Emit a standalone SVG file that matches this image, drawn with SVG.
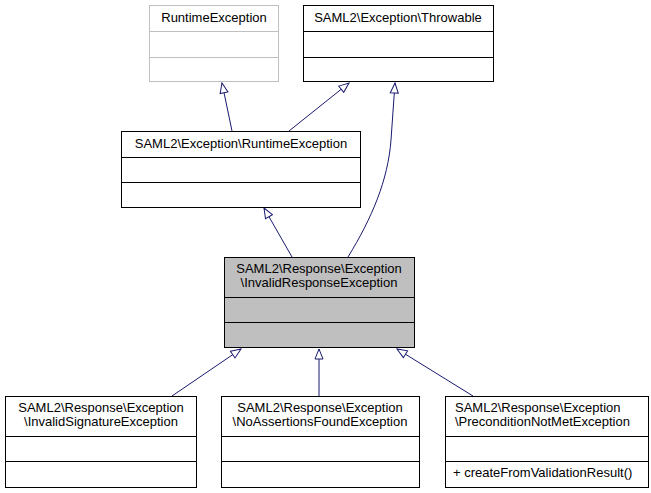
<svg xmlns="http://www.w3.org/2000/svg" width="651" height="493" viewBox="0 0 651 493">
<style>
text{font-family:"Liberation Sans",Arial,sans-serif;font-size:13px;fill:#000}
.c{text-anchor:middle}
.b{fill:#fff;stroke:#000;stroke-width:1}
.g{fill:#fff;stroke:#bfbfbf;stroke-width:1}
.e{fill:none;stroke:#191970;stroke-width:1}
.h{fill:#fff;stroke:#191970;stroke-width:1}
</style>
<defs>
<marker id="a" viewBox="0 0 12 10" refX="11" refY="5" markerWidth="12" markerHeight="10" markerUnits="userSpaceOnUse" orient="auto">
<path class="h" d="M1,1 L11,5 L1,9 Z"/>
</marker>
</defs>
<rect width="651" height="493" fill="#fff"/>
<g id="edges">
<path class="e" d="M232,131 L222,83" marker-end="url(#a)"/>
<path class="e" d="M289,131 L349,83" marker-end="url(#a)"/>
<path class="e" d="M348,257 C372,218 388,180 391,140 L395,83" marker-end="url(#a)"/>
<path class="e" d="M292,257 L264,208" marker-end="url(#a)"/>
<path class="e" d="M172,396 L241,349" marker-end="url(#a)"/>
<path class="e" d="M319,396 L319,349" marker-end="url(#a)"/>
<path class="e" d="M473,396 L397,349" marker-end="url(#a)"/>
</g>
<g id="n1">
<rect class="g" x="149.5" y="5.5" width="129" height="76"/>
<path class="g" d="M149.5,31.5 H278.5 M149.5,57.5 H278.5"/>
<text class="c" x="214" y="22">RuntimeException</text>
</g>
<g id="n2">
<rect class="b" x="303.5" y="5.5" width="190" height="76"/>
<path class="b" d="M303.5,31.5 H493.5 M303.5,57.5 H493.5"/>
<text class="c" x="398" y="22">SAML2\Exception\Throwable</text>
</g>
<g id="n3">
<rect class="b" x="121.5" y="131.5" width="239" height="76"/>
<path class="b" d="M121.5,157.5 H360.5 M121.5,182.5 H360.5"/>
<text class="c" x="241" y="148">SAML2\Exception\RuntimeException</text>
</g>
<g id="n4">
<rect x="224.5" y="257.5" width="190" height="90" fill="#bfbfbf" stroke="#000"/>
<path class="b" d="M224.5,297.5 H414.5 M224.5,322.5 H414.5"/>
<text class="c" x="319" y="273">SAML2\Response\Exception</text>
<text class="c" x="319" y="287">\InvalidResponseException</text>
</g>
<g id="n5">
<rect class="b" x="5.5" y="396.5" width="191" height="91"/>
<path class="b" d="M5.5,436.5 H196.5 M5.5,461.5 H196.5"/>
<text class="c" x="101" y="412">SAML2\Response\Exception</text>
<text class="c" x="101" y="426">\InvalidSignatureException</text>
</g>
<g id="n6">
<rect class="b" x="221.5" y="396.5" width="198" height="91"/>
<path class="b" d="M221.5,436.5 H419.5 M221.5,461.5 H419.5"/>
<text class="c" x="320" y="412">SAML2\Response\Exception</text>
<text class="c" x="320" y="426">\NoAssertionsFoundException</text>
</g>
<g id="n7">
<rect class="b" x="445.5" y="396.5" width="203" height="91"/>
<path class="b" d="M445.5,436.5 H648.5 M445.5,461.5 H648.5"/>
<text x="455" y="412">SAML2\Response\Exception</text>
<text x="455" y="426">\PreconditionNotMetException</text>
<text x="453" y="477">+ createFromValidationResult()</text>
</g>
</svg>
